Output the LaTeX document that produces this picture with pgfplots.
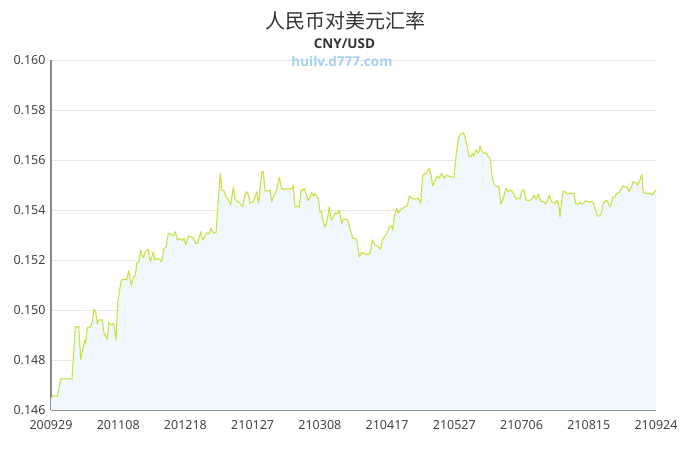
\documentclass[border=0pt]{standalone}
\usepackage{pgfplots}
\pgfplotsset{compat=1.18}
\usepackage{pgfplotstable}
\usepackage{fontspec}
\setmainfont{Noto Sans}
\newfontfamily\cjk{Noto Sans CJK SC}
\newfontfamily\osans{Open Sans}
\definecolor{linegreen}{RGB}{200,228,66}
\definecolor{areablue}{RGB}{240,247,253}
\definecolor{gridgrey}{RGB}{230,230,230}
\definecolor{axisgrey}{RGB}{136,136,136}
\definecolor{textgrey}{RGB}{68,68,68}
\definecolor{titlegrey}{RGB}{51,51,51}
\definecolor{wmblue}{RGB}{166,211,236}
\pgfplotstableread{
px val
51 0.14647
53 0.14656
57.3 0.14656
60.7 0.14725
72 0.14724
75.3 0.14933
78.7 0.14933
80.7 0.14803
82.7 0.1484
84.7 0.1488
85.7 0.14868
87.3 0.14929
90.7 0.14933
92.3 0.14953
93.7 0.15003
95.7 0.14993
97.3 0.14944
98.7 0.1496
102.3 0.1496
104 0.14907
107.3 0.14883
108.7 0.14949
111.3 0.1494
113.7 0.14947
116 0.1488
118 0.1504
121.3 0.1512
125.3 0.15123
126.7 0.1512
128.7 0.15157
131.3 0.151
133.7 0.15133
135.3 0.15136
136.7 0.15187
138.7 0.15191
140.7 0.1524
143.3 0.15208
145.3 0.15233
148 0.15244
150.3 0.15193
153.3 0.15233
155 0.152
157.3 0.15207
160 0.152
161.7 0.15193
164 0.15247
166 0.15251
168.3 0.15307
170.7 0.15304
173.3 0.15296
175.3 0.15313
177.3 0.1528
180 0.15287
182.3 0.15277
184 0.15287
185.7 0.1526
188.3 0.15296
190.7 0.15293
193.3 0.15287
195.7 0.15267
197.7 0.15267
200.7 0.15313
202.7 0.1528
205 0.15296
206.7 0.15309
209 0.15304
211 0.15327
213.3 0.15309
216 0.15309
218.3 0.1544
220.3 0.15547
222 0.1548
224 0.15477
226.7 0.15447
228.7 0.1544
230.7 0.1542
233.3 0.15491
235 0.15447
237.3 0.15433
240 0.15427
242.7 0.15413
244.3 0.15453
246.7 0.15473
248.7 0.1546
250 0.15427
253.3 0.15433
256.7 0.15473
258.7 0.15427
261.7 0.15553
263.3 0.15553
265 0.15477
268.3 0.15477
270 0.1548
271.7 0.15433
273.3 0.15453
276.7 0.1548
279.3 0.15531
281.7 0.15484
285 0.15484
291.7 0.15484
293.3 0.155
295 0.15413
299.3 0.15413
301 0.1548
302.7 0.15477
304 0.15487
306 0.15467
308.3 0.15437
310 0.15451
311.7 0.15469
313.3 0.15456
315 0.15467
316.7 0.15453
318.3 0.15447
320 0.15393
321.7 0.15393
322.7 0.1536
325 0.15331
327.3 0.1536
329.3 0.15413
331.3 0.1536
333.3 0.15373
335.3 0.15389
337.3 0.15384
339.3 0.154
341.7 0.15347
343.3 0.15363
347.7 0.15363
350 0.15327
352.7 0.15287
356.7 0.15284
359.3 0.15213
361.7 0.15231
365 0.15224
368.3 0.15221
370 0.15227
372.3 0.1528
375 0.1526
378.3 0.15253
380.7 0.15243
382.3 0.1528
385 0.15296
387.3 0.15309
389.3 0.15333
391.7 0.15336
392.7 0.1532
394.3 0.15373
396.7 0.15407
398.3 0.15387
400 0.154
402.7 0.15407
405 0.15413
407.3 0.15416
409.3 0.15456
411.7 0.15447
415 0.15444
418.3 0.15447
420.7 0.15427
422.7 0.1554
425 0.15544
427.3 0.15553
429.3 0.15567
430.7 0.15547
432.7 0.15496
435 0.15517
437.3 0.15536
439.3 0.15527
441.7 0.15547
444 0.15527
446.7 0.1554
450 0.15533
454 0.15531
456 0.15613
458.3 0.15687
460.7 0.15704
463.3 0.15709
465 0.15693
467.3 0.15653
469.3 0.15613
471 0.15613
472.7 0.15627
474 0.15616
476 0.1564
478.3 0.15627
480 0.15656
482.3 0.15633
484.3 0.15627
486.7 0.15627
488.3 0.15613
490 0.15607
492.7 0.1552
495 0.15497
497.3 0.15493
499 0.15493
500.7 0.15424
502.7 0.1544
506 0.15487
508.3 0.15473
511 0.1548
513.3 0.15469
515.7 0.15444
518.3 0.15447
520 0.15445
521.7 0.15477
524 0.1548
526 0.1544
529.3 0.15437
531.7 0.15443
534 0.1546
536 0.15443
538.3 0.15464
540.7 0.15433
543.3 0.15433
545.7 0.15424
547.7 0.1544
549.3 0.1546
551.7 0.15431
555 0.15427
557.3 0.1544
559.3 0.15407
560 0.15373
562.7 0.15473
565 0.15473
567.3 0.15464
570 0.15467
574 0.15467
575.7 0.15424
578.3 0.15424
580 0.15431
581.7 0.15424
583.3 0.15427
585.7 0.15437
588.3 0.15433
591.7 0.15433
593.3 0.15429
595.7 0.154
597.3 0.15377
600 0.15376
601.7 0.15393
603.3 0.15427
605.7 0.15437
607.3 0.15437
609.3 0.15416
610.7 0.15416
612.7 0.15451
615 0.15453
616.7 0.15467
619 0.15469
621 0.15483
622.7 0.15496
625 0.15493
627.3 0.15491
629.3 0.15473
631.7 0.15496
633.3 0.15513
635.7 0.15509
637.7 0.155
640 0.1552
641.7 0.15543
643.3 0.15469
646.7 0.15467
650 0.15467
652.3 0.1546
655 0.15477
656 0.1548
}\ratedata
\begin{document}
\begin{tikzpicture}
\begin{axis}[
  scale only axis,
  width=605pt, height=350pt,
  xmin=0, xmax=360,
  ymin=0.146, ymax=0.160,
  xtick={0,40,...,360},
  xticklabels={200929,201108,201218,210127,210308,210417,210527,210706,210815,210924},
  ytick={0.146,0.148,...,0.1605},
  yticklabel style={/pgf/number format/.cd,fixed,fixed zerofill,precision=3,assume math mode=true},
  scaled y ticks=false,
  ticklabel style={font=\fontsize{12.5}{14}\selectfont, text=textgrey},
  xticklabel style={/pgf/number format/assume math mode=true},
  axis lines=left,
  axis line style={-, draw=axisgrey, line width=1.2pt},
  major tick length=0pt,
  ymajorgrids,
  grid style={gridgrey, line width=0.8pt},
  xtick pos=bottom, ytick pos=left,
  yticklabel shift=2pt,
  xticklabel shift=7pt,
  clip=true,
]
\addplot[fill=areablue, draw=none] table[x expr=(\thisrow{px}-51)/1.680556, y=val] {\ratedata} \closedcycle;
\addplot[linegreen, line width=1.1pt, line join=round] table[x expr=(\thisrow{px}-51)/1.680556, y=val] {\ratedata};
\end{axis}
\node[text=titlegrey, font=\cjk\fontsize{20}{23}\selectfont] at (294pt,389pt) {人民币对美元汇率};
\node[text=titlegrey, font=\osans\bfseries\fontsize{13.5}{15}\selectfont] at (293.5pt,366pt) {CNY/USD};
\node[text=wmblue, font=\osans\bfseries\fontsize{13.5}{15}\selectfont] at (291pt,349pt) {huilv.d777.com};
\pgfresetboundingbox
\path[use as bounding box] (-51pt,-40pt) rectangle (634pt,410pt);
\end{tikzpicture}
\end{document}
